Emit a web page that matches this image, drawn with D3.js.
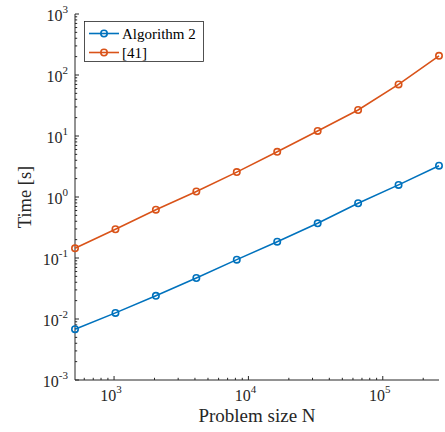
<!DOCTYPE html>
<html>
<head>
<meta charset="utf-8">
<script src="https://cdn.jsdelivr.net/npm/d3@7.9.0/dist/d3.min.js"></script>
<style>
  body { margin: 0; background: #fff; }
  svg { font-family: "Liberation Serif", "Times New Roman", serif; }
</style>
</head>
<body>
<svg id="chart" width="445" height="432"></svg>
<script>
// problem sizes N (2^9 .. 2^18)
const sizes = [512, 1024, 2048, 4096, 8192, 16384, 32768, 65536, 131072, 262144];
// run times [s]
const algo2Times = [0.0068, 0.0126, 0.024, 0.047, 0.094, 0.185, 0.37, 0.79, 1.58, 3.26];
const ref41Times = [0.144, 0.296, 0.62, 1.23, 2.56, 5.5, 12.1, 26.7, 70, 206];
const seriesNames = ['Algorithm 2', '[41]'];
const seriesColors = ['#0072BD', '#D95319'];
const xTicks = [1e3, 1e4, 1e5];
const yTicks = [1e-3, 1e-2, 1e-1, 1e0, 1e1, 1e2, 1e3];

const margin = { top: 14, right: 6, bottom: 52, left: 75 };
const width = 445, height = 432;
const svg = d3.select('#chart');
const axisColor = '#262626';

const x = d3.scaleLog()
    .domain([512, 262144])
    .range([margin.left, width - margin.right]);
const y = d3.scaleLog()
    .domain([1e-3, 1e3])
    .range([height - margin.bottom, margin.top]);

// minor ticks
const xMinor = [];
for (let e = 2; e <= 5; e++) {
    for (let k = 1; k <= 9; k++) {
        const v = k * Math.pow(10, e);
        if (v >= 512 && v <= 262144) xMinor.push(v);
    }
}
const yMinor = [];
for (let e = -3; e < 3; e++) {
    for (let k = 2; k <= 9; k++) yMinor.push(k * Math.pow(10, e));
}

const g = svg.append('g');

// x axis
const xg = g.append('g');
xg.append('line')
    .attr('x1', x.range()[0]).attr('x2', x.range()[1])
    .attr('y1', y(1e-3)).attr('y2', y(1e-3))
    .attr('stroke', axisColor).attr('stroke-width', 1);
xg.selectAll('line.minor').data(xMinor).join('line')
    .attr('class', 'minor')
    .attr('x1', d => x(d)).attr('x2', d => x(d))
    .attr('y1', y(1e-3)).attr('y2', d => y(1e-3) - (xTicks.includes(d) ? 4 : 2.2))
    .attr('stroke', axisColor).attr('stroke-width', 1);

const xl = xg.selectAll('text.tick').data(xTicks).join('text')
    .attr('class', 'tick')
    .attr('x', d => x(d) - 3)
    .attr('y', y(1e-3) + 21)
    .attr('text-anchor', 'middle')
    .attr('fill', axisColor)
    .style('font-size', '16px');
xl.append('tspan').text('10');
xl.append('tspan').attr('dy', -8).style('font-size', '11px')
    .text(d => Math.round(Math.log10(d)));

// y axis
const yg = g.append('g');
yg.append('line')
    .attr('x1', x.range()[0]).attr('x2', x.range()[0])
    .attr('y1', y.range()[0]).attr('y2', y.range()[1])
    .attr('stroke', axisColor).attr('stroke-width', 1);
yg.selectAll('line.major').data(yTicks).join('line')
    .attr('class', 'major')
    .attr('x1', x.range()[0]).attr('x2', x.range()[0] + 4)
    .attr('y1', d => y(d)).attr('y2', d => y(d))
    .attr('stroke', axisColor).attr('stroke-width', 1);
yg.selectAll('line.minor').data(yMinor).join('line')
    .attr('class', 'minor')
    .attr('x1', x.range()[0]).attr('x2', x.range()[0] + 2.2)
    .attr('y1', d => y(d)).attr('y2', d => y(d))
    .attr('stroke', axisColor).attr('stroke-width', 1);

const yl = yg.selectAll('text.tick').data(yTicks).join('text')
    .attr('class', 'tick')
    .attr('x', x.range()[0] - 7)
    .attr('y', d => y(d) + 7)
    .attr('text-anchor', 'end')
    .attr('fill', axisColor)
    .style('font-size', '16px');
yl.append('tspan').text('10');
yl.append('tspan').attr('dy', -8).style('font-size', '11px')
    .text(d => { const p = Math.round(Math.log10(d)); return p < 0 ? '-' + (-p) : p; });

// axis titles
g.append('text')
    .attr('x', (x.range()[0] + x.range()[1]) / 2)
    .attr('y', 422)
    .attr('text-anchor', 'middle')
    .attr('fill', axisColor)
    .style('font-size', '19px')
    .text('Problem size N');
g.append('text')
    .attr('transform', `translate(31,${(y.range()[0] + y.range()[1]) / 2}) rotate(-90)`)
    .attr('text-anchor', 'middle')
    .attr('fill', axisColor)
    .style('font-size', '18.5px')
    .text('Time [s]');

// series
const series = [algo2Times, ref41Times].map((vals, i) => ({
    name: seriesNames[i],
    color: seriesColors[i],
    points: sizes.map((n, j) => ({ n, t: vals[j] }))
}));

const line = d3.line().x(d => x(d.n)).y(d => y(d.t));

const sg = g.selectAll('g.series').data(series).join('g').attr('class', 'series');
sg.append('path')
    .attr('d', d => line(d.points))
    .attr('fill', 'none')
    .attr('stroke', d => d.color)
    .attr('stroke-width', 1.6);
sg.each(function (s) {
    d3.select(this).selectAll('circle').data(s.points).join('circle')
        .attr('cx', d => x(d.n))
        .attr('cy', d => y(d.t))
        .attr('r', 3.2)
        .attr('fill', 'none')
        .attr('stroke', s.color)
        .attr('stroke-width', 1.6);
});

// legend
const lg = g.append('g').attr('transform', 'translate(84.5,21.5)');
lg.append('rect')
    .attr('width', 119).attr('height', 40)
    .attr('fill', '#fff')
    .attr('stroke', axisColor).attr('stroke-width', 0.8);
series.forEach((s, i) => {
    const cy = 12 + i * 19;
    lg.append('line')
        .attr('x1', 4.5).attr('x2', 34.5)
        .attr('y1', cy).attr('y2', cy)
        .attr('stroke', s.color).attr('stroke-width', 1.6);
    lg.append('circle')
        .attr('cx', 19.5).attr('cy', cy).attr('r', 3.2)
        .attr('fill', 'none')
        .attr('stroke', s.color).attr('stroke-width', 1.6);
    lg.append('text')
        .attr('x', 37.5).attr('y', cy + 5)
        .attr('fill', '#000')
        .style('font-size', '15px')
        .text(s.name);
});
</script>
</body>
</html>
